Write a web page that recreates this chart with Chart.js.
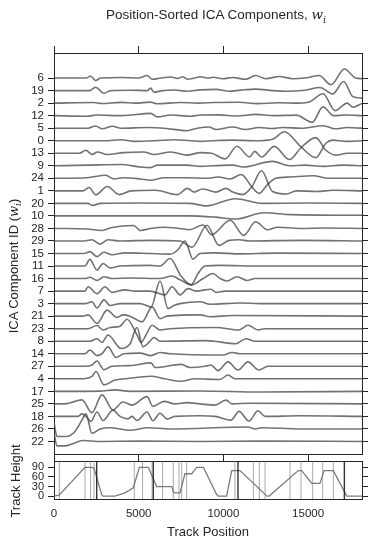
<!DOCTYPE html>
<html><head><meta charset="utf-8">
<script src="https://cdn.jsdelivr.net/npm/chart.js@4.4.1/dist/chart.umd.min.js"></script>
<style>
html,body{margin:0;padding:0;background:#fff}
body{width:368px;height:545px;position:relative;overflow:hidden;font-family:"Liberation Sans",Arial,sans-serif;color:#262626}
canvas{position:absolute;left:0}
#c1{top:0}
#c2{top:450px}
.t{position:absolute;white-space:nowrap;font-size:13px;line-height:1}
.m{font-family:"DejaVu Serif",serif;font-style:italic}
.m sub{font-size:70%;font-style:italic}
</style></head><body>
<canvas id="c1" width="368" height="461"></canvas>
<canvas id="c2" width="368" height="95"></canvas>
<div class="t" id="title" style="left:216px;top:8px;transform:translateX(-50%);font-size:13.5px">Position-Sorted ICA Components, <span class="m">w<sub>i</sub></span></div>
<div class="t" style="left:15px;top:266px;transform:translate(-50%,-50%) rotate(-90deg)">ICA Component ID (<span class="m">w<sub>i</sub></span>)</div>
<div class="t" style="left:15px;top:481px;transform:translate(-50%,-50%) rotate(-90deg)">Track Height</div>
<div class="t" style="left:208px;top:531px;transform:translate(-50%,-50%)">Track Position</div>
<script>
// ---- data ----
const componentIds = [6,19,2,12,5,0,13,9,24,1,20,10,28,29,15,11,16,7,3,21,23,8,14,27,4,17,25,18,26,22]; // top to bottom
const xTickValues = [0, 5000, 10000, 15000];
const heightTickValues = [0, 30, 60, 90];

// each component: [track position, amplitude]
const w6  = [[0,0],[1900,0],[2160,0.16],[2460,-0.19],[2760,0],[4000,0.04],[5000,0],[5500,0.2],[5800,-0.1],[6300,0],[6900,0.08],[7300,-0.03],[7600,0.1],[7900,-0.1],[8300,0],[8650,0.1],[9100,0],[9400,0.06],[9950,-0.06],[10550,0.05],[11300,-0.1],[11900,0.2],[12500,-0.05],[13300,0.12],[14100,-0.05],[14900,0.03],[15650,0.2],[16350,-0.53],[17150,0.72],[17800,0],[18200,-0.05]];
const w19 = [[0,0],[2100,0],[2450,0.27],[2950,-0.21],[3350,0],[4500,0.03],[5500,0],[5700,0.2],[5900,-0.13],[6400,0],[7100,0.05],[7850,-0.05],[8650,0.06],[9550,0.1],[10350,-0.05],[11000,0.04],[11900,0.12],[12900,0],[13700,-0.05],[14800,0.03],[15700,0.25],[16450,-0.27],[17100,0.72],[17650,-0.5],[18200,-0.6]];
const w2  = [[0,0],[2350,0.05],[2800,-0.03],[3950,0.06],[4800,0],[5700,0.08],[6100,-0.05],[7450,0.05],[8500,0],[9500,0.05],[10950,0.07],[12000,-0.04],[13200,0.03],[14500,0],[15100,0.1],[15880,0.75],[16590,-0.6],[17300,0],[17650,-0.33],[18200,0]];
const w12 = [[0,0],[1950,-0.05],[2550,0.05],[4000,0],[5700,0.18],[6100,-0.1],[6900,0.05],[8050,-0.05],[8650,0.05],[9750,0.06],[10800,-0.03],[11900,0.1],[13000,0],[14300,0.04],[15240,-0.53],[15880,0.7],[16500,0],[17200,0.05],[18200,0]];
const w5  = [[0,0],[2000,0],[2450,0.18],[2850,-0.05],[3450,0.15],[3950,0],[5500,0.05],[6500,0],[7850,-0.2],[8450,0],[9150,0.1],[9550,-0.1],[10550,0.1],[11300,-0.1],[12100,0.06],[12900,-0.03],[13500,0.05],[14600,0],[15900,0.2],[16600,-0.05],[17300,0.05],[18200,0]];
const w0  = [[0,0],[3000,0],[3950,0.08],[4700,-0.05],[6000,0],[7100,0.08],[8650,-0.05],[9400,0],[10550,0.05],[11900,0],[12900,0.12],[13600,0.72],[14580,-0.5],[15450,-1.35],[16050,-0.2],[16450,0.05],[17250,-0.05],[18200,0]];
const w13 = [[0,0],[1500,0],[1870,0.24],[2260,-0.1],[2560,0.1],[3150,-0.1],[4100,0.05],[5300,0.1],[5900,-0.1],[6900,0.1],[7850,-0.15],[8650,0.05],[9300,0],[10100,-0.45],[10800,0.56],[11550,-0.3],[11850,0.15],[12250,-0.3],[13000,0.55],[13900,-0.5],[14580,0.44],[15450,1.25],[16050,0.24],[16650,-0.15],[17300,0],[18200,0]];
const w9  = [[0,0],[1950,0.05],[3950,0.1],[5100,-0.1],[5700,-0.15],[6100,0.05],[7850,0.05],[8650,-0.05],[9400,0],[10550,0.05],[11150,-0.1],[12900,0.35],[13900,0],[14800,0.05],[15900,-0.05],[17000,0.05],[18200,0]];
const w24 = [[0,0],[1950,0.05],[3050,0.24],[3550,-0.05],[4100,0.05],[5100,-0.05],[5700,-0.15],[6500,0.05],[7850,0.05],[9000,0],[9700,0.1],[10400,-0.05],[11050,0.3],[11690,-0.7],[12100,-1.2],[12600,-0.5],[13100,0],[13900,0.1],[15300,0.2],[16200,0],[18200,0]];
const w1  = [[0,0],[1700,0],[2070,0.27],[2460,-0.32],[3150,0.35],[3850,-0.3],[4550,0],[6000,0.05],[7280,-0.3],[7870,0.2],[8270,-0.1],[8760,0.15],[9000,0.1],[9560,-0.1],[10150,0.2],[10550,-0.1],[11140,-0.3],[11690,0.35],[12250,1.6],[12900,-0.05],[13750,-0.25],[14300,0],[15500,-0.05],[16500,0.05],[18200,0]];
const w20 = [[0,0],[2000,0],[2260,-0.16],[2760,0],[5000,0.03],[8000,0],[9000,-0.2],[10700,0.37],[12300,0],[15000,0.03],[18200,0]];
const w10 = [[0,0],[8000,0],[9500,-0.1],[10700,-0.25],[12400,0.25],[14000,0.1],[18200,0.05]];
const w28 = [[0,0],[1950,-0.05],[2850,-0.16],[3350,0.05],[4700,0.24],[5100,-0.16],[5700,0],[6500,0.1],[7400,0],[8000,-0.1],[8800,0.27],[9300,-0.5],[10400,0.65],[11200,-0.55],[11900,0.53],[12600,-0.1],[13200,0.1],[14500,0],[16000,0.03],[18200,0]];
const w29 = [[0,0],[1800,0],[2240,0.1],[2720,-0.25],[3190,0.1],[3900,0],[5670,0.05],[7440,0],[8150,-0.5],[9030,1.25],[9740,-0.35],[10330,0.05],[10920,0.1],[11570,0],[14520,0.05],[18200,0]];
const w15 = [[0,0],[1800,0],[2120,0.15],[2540,-0.25],[2950,0.1],[3420,-0.1],[4190,0.05],[5670,0],[6850,-0.05],[7320,0.3],[7730,1.0],[8200,-0.45],[8620,0],[9500,0.05],[11000,-0.03],[13000,0.03],[18200,0]];
const w11 = [[0,0],[1830,0],[2120,0.53],[2540,-0.32],[2890,0.2],[3310,-0.15],[3900,0],[5670,0.05],[6260,0],[6850,0.6],[7500,-0.8],[8090,-1.5],[8500,-0.6],[8910,0],[9800,0.05],[12200,0],[18200,0]];
const w16 = [[0,0],[1800,0],[2120,0.1],[2540,-0.15],[2950,0.15],[3420,0],[4490,0.05],[6260,0],[6970,0.2],[7440,-0.1],[8150,-0.5],[8800,0],[9390,0.4],[9800,0],[10210,-0.2],[10800,0.15],[11390,-0.15],[11870,0],[18200,0]];
const w7  = [[0,0],[1830,0],[2010,0.35],[2540,-0.2],[3010,0.35],[3420,-0.1],[4190,0.1],[4780,0],[5670,0],[6550,-0.3],[6970,0.35],[7440,-0.3],[7910,0.2],[8380,0],[9270,0.15],[9560,-0.1],[10090,0],[18200,0]];
const w3  = [[0,0],[1830,0],[2240,0.15],[2540,-0.35],[2950,0.3],[3310,-0.15],[3900,0],[5080,0],[5550,-0.2],[5730,-0.27],[6260,1.8],[6730,-0.4],[7080,-0.15],[7440,0],[8620,0.15],[9210,-0.05],[10980,0.05],[12160,0],[18200,0]];
const w21 = [[0,0],[1700,0],[2010,0.1],[2540,-0.58],[3130,0.48],[3720,-0.1],[4070,0.1],[4490,0],[5200,-0.45],[5790,0.74],[6260,-0.2],[6670,0],[8620,0.1],[9210,-0.05],[10500,0.05],[18200,0]];
const w23 = [[0,0],[2010,0],[2540,0.25],[2890,-0.1],[3310,0.1],[3900,0.2],[4310,0.75],[4900,-0.5],[5140,-1.1],[5430,-0.5],[5790,0.27],[6260,-0.1],[6850,0],[9560,0.1],[10920,-0.1],[11450,0.27],[12040,-0.1],[12460,0],[18200,0]];
const w8  = [[0,0],[2120,0],[2540,0.2],[2830,-0.1],[3190,0.5],[3960,-0.58],[4490,-0.2],[4900,1.1],[5250,-0.45],[5670,0],[5900,0.3],[6260,0],[9000,0.05],[10740,-0.2],[11330,0.2],[11870,0],[18200,0]];
const w14 = [[0,0],[1830,0],[2120,0.3],[2540,-0.15],[2830,0],[3190,0.55],[3660,-0.3],[4130,0],[5080,0.05],[5730,-0.15],[6260,0.1],[6850,0],[9980,-0.1],[10510,0.1],[10980,0],[18200,0]];
const w27 = [[0,0],[1830,0],[2240,0.1],[2540,0.42],[2950,-0.27],[3420,0],[4490,0.05],[5730,0.27],[5960,-0.1],[7500,0.15],[8030,-0.1],[8910,0],[9270,0.1],[9680,-0.35],[10270,0.35],[10860,-0.3],[11450,0.35],[12100,-0.3],[12630,0],[18200,0]];
const w4  = [[0,0],[1540,0],[2240,0.2],[2480,0.58],[2950,-0.48],[3600,-0.1],[4190,0],[5730,0.2],[6550,0],[7500,-0.2],[8320,0],[9800,-0.05],[10270,0.3],[10680,0],[18200,0]];
const w17 = [[0,0],[2700,0.02],[3600,0.12],[4490,0],[8620,0.03],[12160,-0.05],[18200,0]];
const w25 = [[0,0],[650,0],[1240,0.2],[1650,0.32],[2240,-0.7],[2830,0.72],[3480,-0.48],[4070,0.15],[4600,-0.1],[5490,0.58],[5840,-0.2],[6490,0.2],[7140,0],[7850,0.1],[8620,0],[9500,-0.1],[10150,0.3],[10510,0],[11570,0.05],[18200,0]];
const w18 = [[0,0],[1420,0],[1650,0.2],[1890,0],[2180,-0.4],[2540,0.35],[2890,-0.33],[3480,0.5],[3900,0],[4370,-0.2],[4600,0],[4900,-0.33],[5490,0.35],[5840,-0.35],[6260,0.25],[6670,-0.2],[7140,0],[8620,0.05],[9500,0],[10450,-0.3],[10920,0.4],[11510,-0.37],[12040,0.45],[12460,0],[14500,0.05],[18200,0]];
const w26 = [[0,0.5],[180,-0.6],[710,-0.6],[1240,-0.2],[1650,0.7],[1890,1.2],[2240,-0.35],[2720,0],[3310,0.1],[4490,-0.1],[5550,0.1],[6850,0],[11450,0.15],[11870,0],[12280,0.1],[14500,0],[18200,0]];
const w22 = [[0,0.7],[180,-0.35],[650,-0.35],[1060,-0.2],[1710,0.08],[2720,0],[5080,0.03],[8620,0],[12160,0.03],[18200,0]];

// track height profile
const trackPos    = [0,300,1830,2220,2360,2810,2890,3600,4190,4680,5040,5570,6060,6950,7080,7440,7730,8130,8420,8820,9600,9700,10190,10490,10980,12570,12700,14420,14620,15210,15700,15940,16490,17280,18181];
const trackHeight = [0,3,90,90,88,5,0,0,10,26,90,90,30,30,10,10,70,70,90,90,5,0,0,80,80,0,0,80,80,40,40,80,80,0,0];
// segment boundaries (thin) and section boundaries (dark)
const segmentMarks = [315,1830,2160,2360,4740,5230,5790,6410,7040,7380,7540,7830,10680,11770,12120,12460,13930,14580,15270,15860,16490];
const sectionMarks = [2520,5860,10860,17140];

// ---- build ----
const traces = [w6,w19,w2,w12,w5,w0,w13,w9,w24,w1,w20,w10,w28,w29,w15,w11,w16,w7,w3,w21,w23,w8,w14,w27,w4,w17,w25,w18,w26,w22];
const nRows = componentIds.length;
const XMAX = 18181;
const FONT = '"Liberation Sans", Arial, sans-serif';
const INK = '#262626';

function setTicks(vals){ return function(s){ s.ticks = vals.map(v => ({value: v})); }; }
function noPad(s){ s.paddingTop = 0; s.paddingBottom = 0; s.paddingLeft = 0; s.paddingRight = 0; }
function fixW(w){ return function(s){ s.width = w; noPad(s); }; }
function fixH(h){ return function(s){ s.height = h; noPad(s); }; }
const border = {display:true, color:INK, width:1};
function grid(len){ return {display:true, drawOnChartArea:false, drawTicks:len>0, tickLength:len, color:INK, tickWidth:1}; }

const rowVals = Array.from({length:nRows}, (_, i) => i);
const ds1 = traces.map((tr, r) => {
  const k = nRows - 1 - r;
  return {
    data: tr.map(p => ({x: p[0], y: k + p[1]})),
    borderColor: 'rgba(60,60,60,0.72)', borderWidth: 1.6,
    pointRadius: 0, fill: false, cubicInterpolationMode: 'monotone',
    xAxisID: 'x', yAxisID: 'y'
  };
});

new Chart(document.getElementById('c1'), {
  type: 'line',
  data: {datasets: ds1},
  options: {
    responsive: false, animation: false, devicePixelRatio: 1,
    layout: {padding: 0},
    plugins: {legend: {display: false}, tooltip: {enabled: false}},
    scales: {
      x: {type:'linear', position:'bottom', min:0, max:XMAX, afterBuildTicks:setTicks(xTickValues),
          ticks:{display:false}, grid:grid(7), border:border, afterFit:fixH(7)},
      xt: {type:'linear', position:'top', min:0, max:XMAX, afterBuildTicks:setTicks(xTickValues),
          ticks:{display:false}, grid:grid(7), border:border, afterFit:fixH(53)},
      y: {type:'linear', position:'left', min:-1, max:31, afterBuildTicks:setTicks(rowVals),
          ticks:{autoSkip:false, callback: v => String(componentIds[nRows-1-v]), font:{family:FONT, size:11.5}, color:INK, padding:4},
          grid:grid(6), border:border, afterFit:fixW(54)},
      yr: {type:'linear', position:'right', min:-1, max:31, afterBuildTicks:setTicks(rowVals),
          ticks:{display:false, autoSkip:false}, grid:grid(6), border:border, afterFit:fixW(6)}
    }
  }
});

const ds2 = [];
segmentMarks.forEach(p => ds2.push({data:[{x:p,y:-10},{x:p,y:110}], borderColor:'rgba(110,110,110,0.75)', borderWidth:0.8, pointRadius:0, xAxisID:'x', yAxisID:'y'}));
sectionMarks.forEach(p => ds2.push({data:[{x:p,y:-10},{x:p,y:110}], borderColor:'rgba(30,30,30,0.9)', borderWidth:1.4, pointRadius:0, xAxisID:'x', yAxisID:'y'}));
ds2.push({data: trackPos.map((p, i) => ({x:p, y:trackHeight[i]})), borderColor:'rgba(110,110,110,0.9)', borderWidth:1.3, pointRadius:0, tension:0, xAxisID:'x', yAxisID:'y'});

new Chart(document.getElementById('c2'), {
  type: 'line',
  data: {datasets: ds2},
  options: {
    responsive: false, animation: false, devicePixelRatio: 1,
    layout: {padding: 0},
    plugins: {legend: {display: false}, tooltip: {enabled: false}},
    scales: {
      x: {type:'linear', position:'bottom', min:0, max:XMAX, afterBuildTicks:setTicks(xTickValues),
          ticks:{autoSkip:false, callback: v => String(v), font:{family:FONT, size:11.5}, color:INK, padding:8, maxRotation:0},
          grid:grid(0), border:border, afterFit:fixH(45.7)},
      xt: {type:'linear', position:'top', min:0, max:XMAX, afterBuildTicks:setTicks(xTickValues),
          ticks:{display:false}, grid:grid(0), border:border, afterFit:fixH(11)},
      y: {type:'linear', position:'left', min:-10, max:110, afterBuildTicks:setTicks(heightTickValues),
          ticks:{autoSkip:false, font:{family:FONT, size:11}, color:INK, padding:4},
          grid:grid(6), border:border, afterFit:fixW(54)},
      yr: {type:'linear', position:'right', min:-10, max:110, afterBuildTicks:setTicks(heightTickValues),
          ticks:{display:false, autoSkip:false}, grid:grid(6), border:border, afterFit:fixW(6)}
    }
  }
});
</script>
</body></html>
